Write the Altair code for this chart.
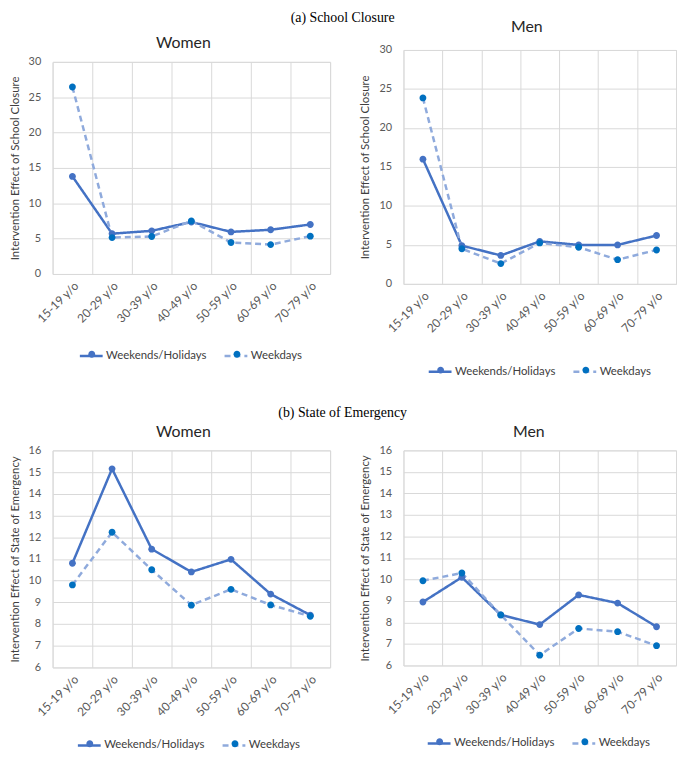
import altair as alt
import pandas as pd

ages = ["15-19 y/o", "20-29 y/o", "30-39 y/o", "40-49 y/o", "50-59 y/o", "60-69 y/o", "70-79 y/o"]
series = ["Weekends/Holidays", "Weekdays"]

# (a) School Closure
sc_women_weekend = [13.8, 5.7, 6.1, 7.35, 5.95, 6.25, 7.0]
sc_women_weekday = [26.45, 5.15, 5.3, 7.5, 4.45, 4.15, 5.35]
sc_men_weekend = [16.0, 4.9, 3.65, 5.45, 5.0, 5.0, 6.2]
sc_men_weekday = [23.85, 4.5, 2.6, 5.25, 4.7, 3.1, 4.35]

# (b) State of Emergency
se_women_weekend = [10.8, 15.15, 11.45, 10.4, 10.98, 9.38, 8.41]
se_women_weekday = [9.8, 12.23, 10.5, 8.87, 9.6, 8.88, 8.36]
se_men_weekend = [8.95, 10.1, 8.35, 7.9, 9.28, 8.9, 7.8]
se_men_weekday = [9.94, 10.3, 8.35, 6.48, 7.72, 7.57, 6.92]

sc_ticks = [0, 5, 10, 15, 20, 25, 30]
se_ticks = [6, 7, 8, 9, 10, 11, 12, 13, 14, 15, 16]

LINE_COLORS = ["#4472C4", "#8FAADC"]
DOT_COLORS = ["#4472C4", "#0070C0"]
FONT = "Lato"
DOT_PATH = "M0.3,0A0.3,0.3,0,1,1,-0.3,0A0.3,0.3,0,1,1,0.3,0Z"
LINE_PATH = "M-1,0L1,0"
# the marker legend's entries are narrower than the line legend's (its symbol is
# only the dot), so it is shifted to put each dot on the middle of its line
DOT_SHIFT_X = 2
DOT_EXTRA_GAP = 7.5


def panel(we, wd, ydomain, yticks, ytitle, width, height, title_text,
          title_offset, title_dx, lx, legend_below):
    df = pd.DataFrame({
        "Age": ages + ages,
        "Series": [series[0]] * len(ages) + [series[1]] * len(ages),
        "Value": list(we) + list(wd),
    })
    df["Marker"] = df["Series"]
    x = alt.X("Age:N", sort=ages, title=None,
              scale=alt.Scale(type="band", paddingInner=0, paddingOuter=0),
              axis=alt.Axis(labelAngle=-45, labelFont=FONT, labelFontSize=12,
                            labelColor="#595959", ticks=False, domain=False,
                            grid=True, gridColor="#D9D9D9", tickBand="extent",
                            labelPadding=6))
    y = alt.Y("Value:Q", title=ytitle,
              scale=alt.Scale(domain=ydomain, nice=False, zero=False),
              axis=alt.Axis(values=yticks, labelFont=FONT, labelFontSize=11,
                            labelColor="#595959", ticks=False, domain=False,
                            grid=True, gridColor="#D9D9D9", labelPadding=12,
                            titleFont=FONT, titleFontSize=11.5, titleColor="#404040",
                            titleFontWeight="normal", titlePadding=8))
    ly = height + legend_below - 11.5
    leg_common = dict(orient="none", legendY=ly, direction="horizontal",
                      title=None, labelFont=FONT, labelFontSize=11.5,
                      labelColor="#404040", symbolSize=529, labelOffset=2,
                      padding=0)
    line_legend = alt.Legend(symbolType=LINE_PATH, symbolStrokeWidth=2.5,
                             legendX=lx, columnPadding=12, **leg_common)
    dot_legend = alt.Legend(symbolType=DOT_PATH, labelOpacity=0, symbolStrokeWidth=0,
                            zindex=1, legendX=lx + DOT_SHIFT_X,
                            columnPadding=12 + DOT_EXTRA_GAP, **leg_common)
    lines = alt.Chart(df).mark_line(strokeWidth=2.5).encode(
        x=x, y=y,
        color=alt.Color("Series:N", sort=series,
                        scale=alt.Scale(domain=series, range=LINE_COLORS),
                        legend=line_legend),
        strokeDash=alt.StrokeDash("Series:N", sort=series,
                                  scale=alt.Scale(domain=series, range=[[1, 0], [6, 4]]),
                                  legend=line_legend),
    )
    dots = alt.Chart(df).mark_point(filled=True, shape=DOT_PATH, size=529, opacity=1,
                                    strokeWidth=0).encode(
        x=x, y=y,
        fill=alt.Fill("Marker:N", sort=series,
                      scale=alt.Scale(range=DOT_COLORS),
                      legend=dot_legend),
    )
    return alt.layer(lines, dots).properties(
        width=width, height=height,
        title=alt.TitleParams(text=title_text, font=FONT, fontSize=16,
                              fontWeight="normal", color="#262626", anchor="middle",
                              offset=title_offset, dx=title_dx),
    )


def spacer(h):
    return alt.Chart(pd.DataFrame({"v": [0]})).mark_point(opacity=0, size=1).properties(
        width=1, height=h)


aW = panel(sc_women_weekend, sc_women_weekday, [0, 30], sc_ticks,
           "Intervention Effect of School Closure", 280, 214, "Women", 5, -8, 26, 81)
aM = panel(sc_men_weekend, sc_men_weekday, [0, 30], sc_ticks,
           "Intervention Effect of School Closure", 275, 236, "Men", 9, -13, 24, 87)
bW = panel(se_women_weekend, se_women_weekday, [6, 16], se_ticks,
           "Intervention Effect of State of Emergency", 280, 219, "Women", 4, -8, 24, 77)
bM = panel(se_men_weekend, se_men_weekday, [6, 16], se_ticks,
           "Intervention Effect of State of Emergency", 275, 217, "Men", 4, -11, 23, 77)

indep = dict(color="independent", fill="independent", strokeDash="independent",
             x="independent", y="independent")


def row(left, right, label, offset, spacers=None):
    if spacers:
        left = alt.vconcat(spacer(spacers[0]), left, spacing=0).resolve_scale(**indep)
        right = alt.vconcat(spacer(spacers[1]), right, spacing=0).resolve_scale(**indep)
    return alt.hconcat(left, right, spacing=28).resolve_scale(**indep).properties(
        title=alt.TitleParams(text=label, font="Liberation Serif", fontSize=14,
                              fontWeight="normal", color="#000000", anchor="middle",
                              offset=offset)
    )


chart = alt.vconcat(
    row(aW, aM, "(a) School Closure", -8, spacers=(17, 1)),
    row(bW, bM, "(b) State of Emergency", 4),
    spacing=28,
).resolve_scale(**indep).properties(padding=0).configure_view(
    strokeWidth=0).configure(background="white")

chart.save("out.html", embed_options={"renderer": "svg", "actions": False})
